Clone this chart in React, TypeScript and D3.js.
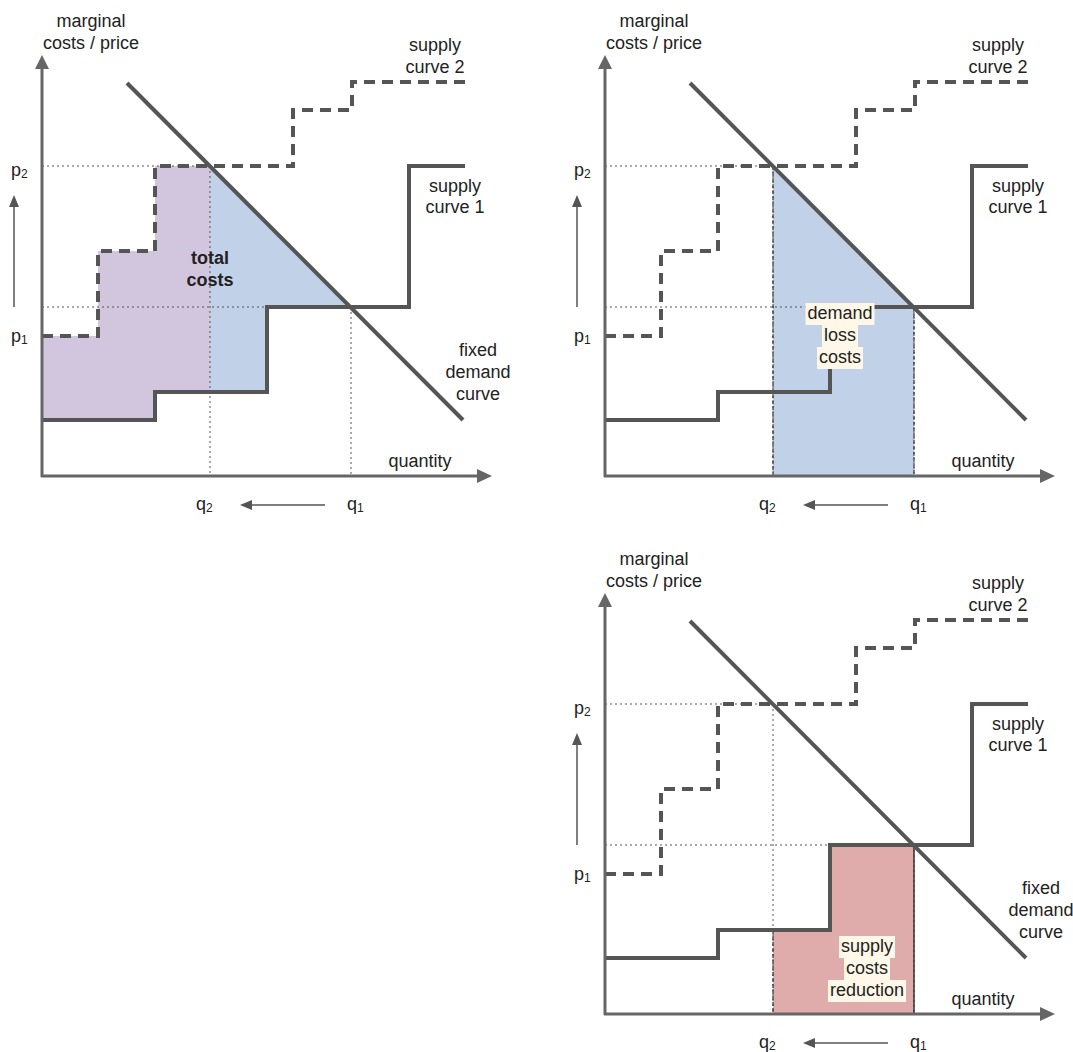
import React, { useLayoutEffect, useRef, useState } from "react";
import * as d3 from "d3";

// ---- data (quantity / price units of the stylised diagram) ----
const supply1Steps: [number, number][] = [[0, 56], [113, 84], [225, 169], [367, 310]];
const supply1End = 423;
const supply2Steps: [number, number][] = [[0, 140], [56, 225], [113, 310], [251, 366], [310, 394]];
const supply2End = 424;
const demandLine: [number, number][] = [[85, 393], [421, 56]];
const quantities = { q1: 309, q2: 168 };
const prices = { p1: 169, p2: 310 };
const axisMax = { q: 450, p: 421 };
const panelLabels = {
  yAxis: ["marginal", "costs / price"],
  xAxis: "quantity",
  supply1: ["supply", "curve 1"],
  supply2: ["supply", "curve 2"],
  demand: ["fixed", "demand", "curve"],
  total: ["total", "costs"],
  demandLoss: ["demand", "loss", "costs"],
  supplyReduction: ["supply", "costs", "reduction"],
};

const FONT = "'Liberation Sans', Arial, sans-serif";
const TXT = "#222";
const LINE = "#555";
const AXIS = "#666";

function level(steps: [number, number][], x: number) {
  let v = steps[0][1];
  for (const s of steps) if (s[0] <= x) v = s[1];
  return v;
}
function stepPoints(steps: [number, number][], a: number, b: number): [number, number][] {
  const pts: [number, number][] = [[a, level(steps, a)]];
  let cur = level(steps, a);
  for (const s of steps) {
    if (s[0] > a && s[0] < b) {
      pts.push([s[0], cur]);
      pts.push([s[0], s[1]]);
      cur = s[1];
    }
  }
  pts.push([b, cur]);
  return pts;
}
function demandAt(q: number) {
  const [[x0, y0], [x1, y1]] = demandLine;
  return y0 + ((q - x0) * (y1 - y0)) / (x1 - x0);
}

function BgLabel({ x, y, lines, lh }: { x: number; y: number; lines: string[]; lh: number }) {
  const refs = useRef<(SVGTextElement | null)[]>([]);
  const [w, setW] = useState<number[]>(lines.map((l) => l.length * 9));
  useLayoutEffect(() => {
    setW(refs.current.map((r) => (r ? r.getBBox().width : 0)));
  }, []);
  return (
    <g>
      {lines.map((l, i) => (
        <rect key={"r" + i} x={x - w[i] / 2 - 2} y={y + i * lh - 16} width={w[i] + 4} height={lh} fill="#fff8e8" />
      ))}
      {lines.map((l, i) => (
        <text key={i} ref={(el) => (refs.current[i] = el)} x={x} y={y + i * lh} textAnchor="middle" fontFamily={FONT} fontSize={18} fill={TXT}>
          {l}
        </text>
      ))}
    </g>
  );
}

function Lines({ x, y, lines, lh, bold, anchor = "middle" }: any) {
  return (
    <g>
      {lines.map((l: string, i: number) => (
        <text key={i} x={x} y={y + i * lh} textAnchor={anchor} fontFamily={FONT} fontSize={18} fontWeight={bold ? "bold" : "normal"} fill={TXT}>
          {l}
        </text>
      ))}
    </g>
  );
}

function Panel({ ox, oy, variant, showDemandLabel }: { ox: number; oy: number; variant: string; showDemandLabel: boolean }) {
  const x = d3.scaleLinear().domain([0, axisMax.q]).range([ox, ox + axisMax.q]);
  const y = d3.scaleLinear().domain([0, axisMax.p]).range([oy, oy - axisMax.p]);
  const line = d3.line<[number, number]>().x((d) => x(d[0])).y((d) => y(d[1]));
  const { q1, q2 } = quantities;
  const { p1, p2 } = prices;

  const s1 = stepPoints(supply1Steps, 0, supply1End);
  const s2 = stepPoints(supply2Steps, 0, supply2End);

  const fills: JSX.Element[] = [];
  if (variant === "total") {
    const purple = [...stepPoints(supply2Steps, 0, q2), ...stepPoints(supply1Steps, 0, q2).reverse()];
    const blue: [number, number][] = [[q2, demandAt(q2)], [q1, demandAt(q1)], ...stepPoints(supply1Steps, q2, q1).reverse()];
    fills.push(<path key="pu" d={line(purple)! + "Z"} fill="#d2c6de" />);
    fills.push(<path key="bl" d={line(blue)! + "Z"} fill="#c1d1e7" />);
  } else if (variant === "demandLoss") {
    const blue: [number, number][] = [[q2, 0], [q2, demandAt(q2)], [q1, demandAt(q1)], [q1, 0]];
    fills.push(<path key="bl" d={line(blue)! + "Z"} fill="#c1d1e7" />);
  } else {
    const red: [number, number][] = [[q2, 0], ...stepPoints(supply1Steps, q2, q1), [q1, 0]];
    fills.push(<path key="rd" d={line(red)! + "Z"} fill="#e0abab" />);
  }

  const dot = { stroke: LINE, strokeWidth: 1, strokeDasharray: "2,3" };
  const edge = { stroke: "#333", strokeWidth: 1.2, strokeDasharray: "4,2" };

  const yTip = y(axisMax.p);
  const xTip = x(axisMax.q);

  return (
    <g>
      {fills}
      {/* guide lines */}
      <line x1={x(0)} x2={x(q2)} y1={y(p2)} y2={y(p2)} {...dot} />
      <line x1={x(0)} x2={x(q1)} y1={y(p1)} y2={y(p1)} {...dot} />
      <line x1={x(q2)} x2={x(q2)} y1={y(p2)} y2={y(0)} {...dot} />
      <line x1={x(q1)} x2={x(q1)} y1={y(p1)} y2={y(0)} {...dot} />
      {variant === "demandLoss" && (
        <g>
          <line x1={x(q2)} x2={x(q2)} y1={y(demandAt(q2))} y2={y(0)} {...edge} />
          <line x1={x(q1)} x2={x(q1)} y1={y(demandAt(q1))} y2={y(0)} {...edge} />
        </g>
      )}
      {variant === "supplyReduction" && (
        <g>
          <line x1={x(q2)} x2={x(q2)} y1={y(level(supply1Steps, q2))} y2={y(0)} {...edge} />
          <line x1={x(q1)} x2={x(q1)} y1={y(level(supply1Steps, q1))} y2={y(0)} stroke="#333" strokeWidth={1.5} />
        </g>
      )}
      {/* curves */}
      <path d={line(s2)!} fill="none" stroke={LINE} strokeWidth={4} strokeDasharray="11,7" />
      <path d={line(s1)!} fill="none" stroke={LINE} strokeWidth={4} />
      <path d={line(demandLine)!} fill="none" stroke={LINE} strokeWidth={4} />
      {/* axes */}
      <line x1={x(0)} x2={x(0)} y1={y(0) + 1} y2={yTip + 12} stroke={AXIS} strokeWidth={3} />
      <path d={`M${x(0)},${yTip} L${x(0) - 7},${yTip + 14} L${x(0) + 7},${yTip + 14} Z`} fill={AXIS} />
      <line x1={x(0) - 1} x2={xTip - 12} y1={y(0)} y2={y(0)} stroke={AXIS} strokeWidth={3} />
      <path d={`M${xTip},${y(0)} L${xTip - 15},${y(0) - 7} L${xTip - 15},${y(0) + 7} Z`} fill={AXIS} />
      {/* price arrow */}
      <line x1={x(0) - 28} x2={x(0) - 28} y1={y(p1)} y2={y(p2) + 38} stroke={LINE} strokeWidth={1.5} />
      <path d={`M${x(0) - 28},${y(p2) + 29} L${x(0) - 33},${y(p2) + 41} L${x(0) - 23},${y(p2) + 41} Z`} fill={LINE} />
      {/* quantity arrow */}
      <line x1={x(q1) - 26} x2={x(q2) + 38} y1={y(0) + 29} y2={y(0) + 29} stroke={LINE} strokeWidth={1.5} />
      <path d={`M${x(q2) + 30},${y(0) + 29} L${x(q2) + 42},${y(0) + 24} L${x(q2) + 42},${y(0) + 34} Z`} fill={LINE} />
      {/* tick labels */}
      <text x={x(0) - 31} y={y(p2) + 10} fontFamily={FONT} fontSize={18} fill={TXT}>
        p<tspan fontSize={12} dy={2}>2</tspan>
      </text>
      <text x={x(0) - 31} y={y(0) - 134} fontFamily={FONT} fontSize={18} fill={TXT}>
        p<tspan fontSize={12} dy={2}>1</tspan>
      </text>
      <text x={x(q2) - 14} y={y(0) + 34} fontFamily={FONT} fontSize={18} fill={TXT}>
        q<tspan fontSize={12} dy={2}>2</tspan>
      </text>
      <text x={x(q1) - 4} y={y(0) + 34} fontFamily={FONT} fontSize={18} fill={TXT}>
        q<tspan fontSize={12} dy={2}>1</tspan>
      </text>
      {/* labels */}
      <Lines x={ox + 49} y={oy - 449} lines={panelLabels.yAxis} lh={22} />
      <Lines x={ox + 378} y={oy - 9} lines={[panelLabels.xAxis]} lh={22} />
      <Lines x={ox + 393} y={oy - 425} lines={panelLabels.supply2} lh={22} />
      <Lines x={ox + 413} y={oy - 284} lines={panelLabels.supply1} lh={21} />
      {showDemandLabel && <Lines x={ox + 436} y={oy - 120} lines={panelLabels.demand} lh={22} />}
      {variant === "total" && <Lines x={x(q2)} y={oy - 212} lines={panelLabels.total} lh={22} bold />}
      {variant === "demandLoss" && <BgLabel x={ox + 235} y={oy - 157} lines={panelLabels.demandLoss} lh={22} />}
      {variant === "supplyReduction" && <BgLabel x={ox + 262} y={oy - 62} lines={panelLabels.supplyReduction} lh={22} />}
    </g>
  );
}

export default function App() {
  return (
    <svg width={1073} height={1052} style={{ position: "absolute", left: 0, top: 0, background: "#fff" }}>
      <rect width={1073} height={1052} fill="#fff" />
      <Panel ox={42} oy={476} variant="total" showDemandLabel={true} />
      <Panel ox={605} oy={476} variant="demandLoss" showDemandLabel={false} />
      <Panel ox={605} oy={1014} variant="supplyReduction" showDemandLabel={true} />
    </svg>
  );
}
